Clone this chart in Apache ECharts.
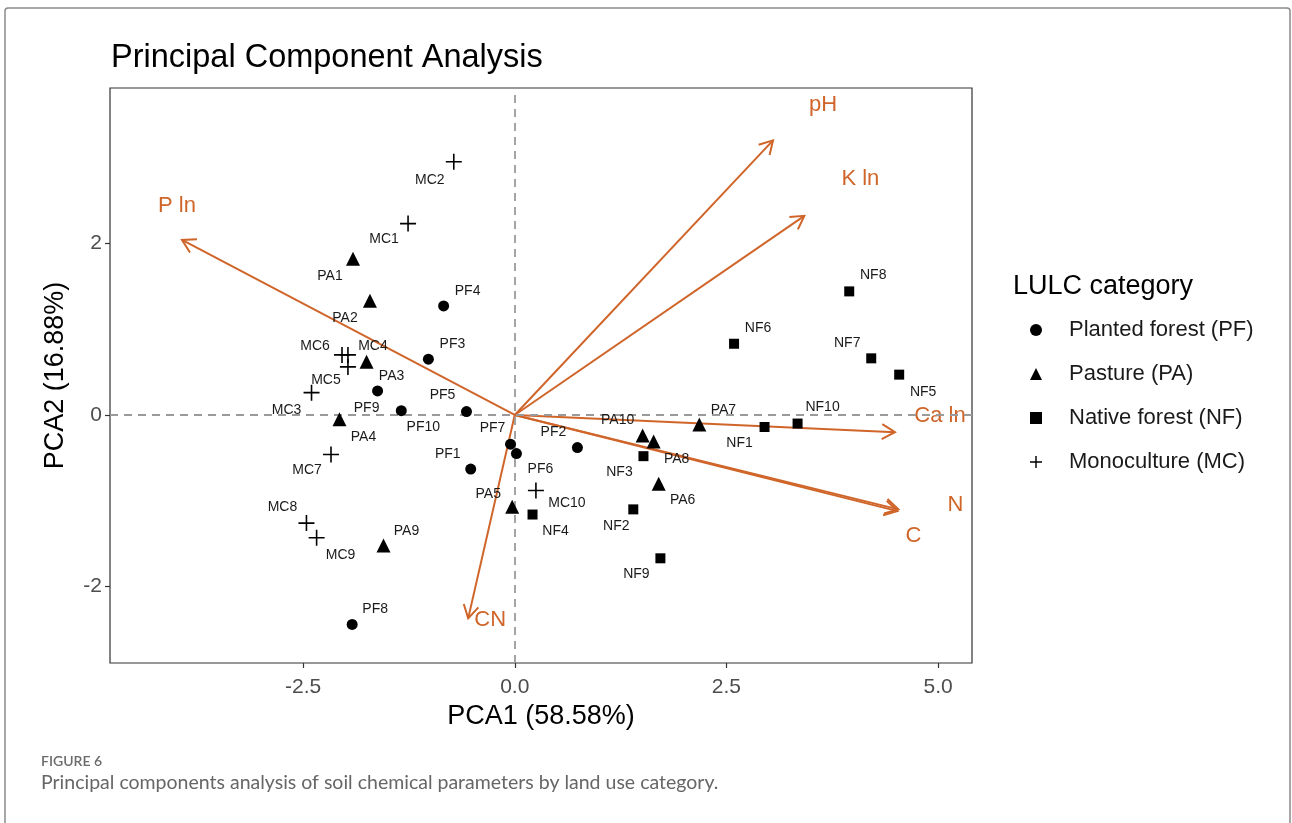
<!DOCTYPE html>
<html>
<head>
<meta charset="utf-8">
<script src="https://cdn.jsdelivr.net/npm/echarts@6/dist/echarts.min.js"></script>
<style>
html,body{margin:0;padding:0;background:#fff;}
#chart{width:1292px;height:823px;}
</style>
</head>
<body>
<div id="chart"></div>
<script>
// ---------- DATA ----------
const pfNames = ['PF1','PF2','PF3','PF4','PF5','PF6','PF7','PF8','PF9','PF10'];
const pfX = [-0.52, 0.74, -1.02, -0.84, -0.57, 0.02, -0.05, -1.92, -1.62, -1.34];
const pfY = [-0.63, -0.38, 0.65, 1.27, 0.04, -0.45, -0.34, -2.44, 0.28, 0.05];

const paNames = ['PA1','PA2','PA3','PA4','PA5','PA6','PA7','PA8','PA9','PA10'];
const paX = [-1.91, -1.71, -1.75, -2.07, -0.03, 1.70, 2.18, 1.64, -1.55, 1.51];
const paY = [1.82, 1.33, 0.62, -0.05, -1.07, -0.80, -0.11, -0.31, -1.52, -0.24];

const nfNames = ['NF1','NF2','NF3','NF4','NF5','NF6','NF7','NF8','NF9','NF10'];
const nfX = [2.95, 1.40, 1.52, 0.21, 4.54, 2.59, 4.21, 3.95, 1.72, 3.34];
const nfY = [-0.14, -1.10, -0.48, -1.16, 0.47, 0.83, 0.66, 1.44, -1.67, -0.10];

const mcNames = ['MC1','MC2','MC3','MC4','MC5','MC6','MC7','MC8','MC9','MC10'];
const mcX = [-1.26, -0.72, -2.40, -1.97, -1.97, -2.04, -2.17, -2.46, -2.34, 0.25];
const mcY = [2.23, 2.95, 0.26, 0.70, 0.56, 0.70, -0.46, -1.26, -1.43, -0.88];

const varNames = ['P ln', 'pH', 'K ln', 'Ca ln', 'C', 'N', 'CN'];
const loadX = [-3.93, 3.05, 3.42, 4.49, 4.52, 4.53, -0.55];
const loadY = [2.04, 3.20, 2.32, -0.20, -1.12, -1.10, -2.37];

const categories = ['Planted forest (PF)', 'Pasture (PA)', 'Native forest (NF)', 'Monoculture (MC)'];
const xTicks = [-2.5, 0, 2.5, 5];
const yTicks = [-2, 0, 2];

// ---------- LAYOUT (label offsets in px) ----------
const labelOffsets = {
  PF1:[-23,-15], PF2:[-24,-15], PF3:[24,-15], PF4:[24,-15], PF5:[-24,-16],
  PF6:[24,16], PF7:[-18,-16], PF8:[23,-15], PF9:[-11,17], PF10:[22,16],
  PA1:[-23,17], PA2:[-25,17], PA3:[25,14], PA4:[24,18], PA5:[-24,-13],
  PA6:[24,17], PA7:[24,-14], PA8:[23,18], PA9:[23,-14], PA10:[-25,-15],
  NF1:[-25,16], NF2:[-17,17], NF3:[-24,16], NF4:[23,17], NF5:[24,17],
  NF6:[24,-16], NF7:[-24,-15], NF8:[24,-16], NF9:[-24,16], NF10:[25,-16],
  MC1:[-24,16], MC2:[-24,18], MC3:[-25,17], MC4:[25,-9], MC5:[-22,13],
  MC6:[-27,-9], MC7:[-24,16], MC8:[-24,-16], MC9:[24,17], MC10:[31,13]
};
const varLabelOffsets = {
  'P ln':[-5,-34], 'pH':[50,-35], 'K ln':[56,-37], 'Ca ln':[45,-16],
  'C':[16,25], 'N':[57,-4], 'CN':[22,2]
};

const FONT = '"Liberation Sans", Arial, sans-serif';
const ORANGE = '#d0652a';
const plusPath = 'path://M-1,-0.1 L-0.1,-0.1 L-0.1,-1 L0.1,-1 L0.1,-0.1 L1,-0.1 L1,0.1 L0.1,0.1 L0.1,1 L-0.1,1 L-0.1,0.1 L-1,0.1 Z';
const plusIcon = 'path://M-1,-0.12 L-0.12,-0.12 L-0.12,-1 L0.12,-1 L0.12,-0.12 L1,-0.12 L1,0.12 L0.12,0.12 L0.12,1 L-0.12,1 L-0.12,0.12 L-1,0.12 Z';

function build(names, xs, ys) {
  return names.map((n, i) => ({ name: n, value: [xs[i], ys[i]] }));
}

function scatter(name, symbol, size, data) {
  return {
    name: name, type: 'scatter', symbol: symbol, symbolSize: size, z: 5,
    itemStyle: { color: '#000', opacity: 1 },
    label: {
      show: true, position: 'inside', formatter: '{b}',
      color: '#1a1a1a', fontSize: 14, fontFamily: FONT
    },
    labelLayout: function (p) {
      const off = labelOffsets[p.text] || [0, 0];
      return { dx: off[0], dy: off[1], hideOverlap: false };
    },
    emphasis: { disabled: true },
    data: data
  };
}

const chart = echarts.init(document.getElementById('chart'), null, { renderer: 'canvas' });

const option = {
  animation: false,
  backgroundColor: '#fff',
  title: [
    { text: 'Principal Component Analysis', left: 106, top: 37,
      textStyle: { fontSize: 32.5, fontWeight: 'normal', color: '#000', fontFamily: FONT } },
    { text: 'LULC category', left: 1008, top: 268,
      textStyle: { fontSize: 27, fontWeight: 'normal', color: '#000', fontFamily: FONT } }
  ],
  legend: {
    orient: 'vertical', left: 1030, top: 317, padding: 0,
    itemWidth: 12, itemHeight: 12, itemGap: 18,
    data: [
      { name: categories[0], icon: 'circle' },
      { name: categories[1], icon: 'triangle' },
      { name: categories[2], icon: 'rect' },
      { name: categories[3], icon: plusIcon }
    ],
    textStyle: { fontSize: 22, color: '#1a1a1a', fontFamily: FONT, lineHeight: 26, padding: [0, 0, 0, 22] },
    selectedMode: false
  },
  grid: {
    left: 110, top: 88, right: 320, bottom: 160,
    show: true, borderColor: '#333', borderWidth: 1.2, backgroundColor: 'transparent'
  },
  xAxis: {
    type: 'value', min: -4.78, max: 5.40,
    name: 'PCA1 (58.58%)', nameLocation: 'middle', nameGap: 39,
    nameTextStyle: { fontSize: 27, color: '#000', fontFamily: FONT },
    axisLine: { show: false, onZero: false },
    axisTick: { show: true, length: 5, customValues: xTicks, lineStyle: { color: '#333', width: 1.2 } },
    axisLabel: { customValues: xTicks, margin: 14, fontSize: 21, color: '#4d4d4d', fontFamily: FONT,
      formatter: v => v.toFixed(1) },
    splitLine: { show: false }
  },
  yAxis: {
    type: 'value', min: -2.89, max: 3.81,
    name: 'PCA2 (16.88%)', nameLocation: 'middle', nameGap: 41,
    nameTextStyle: { fontSize: 27, color: '#000', fontFamily: FONT },
    axisLine: { show: false, onZero: false },
    axisTick: { show: true, length: 5, customValues: yTicks, lineStyle: { color: '#333', width: 1.2 } },
    axisLabel: { customValues: yTicks, margin: 8, fontSize: 21, color: '#4d4d4d', fontFamily: FONT,
      formatter: v => String(v) },
    splitLine: { show: false }
  },
  series: [
    {
      type: 'line', data: [], z: 1, silent: true,
      markLine: {
        silent: true, symbol: ['none', 'none'], label: { show: false },
        lineStyle: { color: '#9a9a9a', type: [8, 6], width: 1.8 },
        emphasis: { disabled: true },
        data: [{ xAxis: 0 }, { yAxis: 0 }]
      }
    },
    {
      type: 'custom', z: 3, silent: true, clip: false,
      data: varNames.map((n, i) => [loadX[i], loadY[i], n]),
      encode: { x: 0, y: 1 },
      renderItem: function (params, api) {
        const o = api.coord([0, 0]);
        const t = api.coord([api.value(0), api.value(1)]);
        const name = varNames[params.dataIndex];
        const ang = Math.atan2(t[1] - o[1], t[0] - o[0]);
        const L = 15, phi = Math.PI / 6;
        const back = ang + Math.PI;
        const p1 = [t[0] + L * Math.cos(back + phi), t[1] + L * Math.sin(back + phi)];
        const p2 = [t[0] + L * Math.cos(back - phi), t[1] + L * Math.sin(back - phi)];
        const off = varLabelOffsets[name] || [0, 0];
        return {
          type: 'group',
          children: [
            { type: 'line', shape: { x1: o[0], y1: o[1], x2: t[0], y2: t[1] },
              style: { stroke: ORANGE, lineWidth: 2 } },
            { type: 'polyline', shape: { points: [p1, t, p2] },
              style: { stroke: ORANGE, lineWidth: 2, fill: null } },
            { type: 'text', x: t[0] + off[0], y: t[1] + off[1],
              style: { text: name, fill: ORANGE, font: '22px ' + FONT, align: 'center', verticalAlign: 'middle' } }
          ]
        };
      }
    },
    scatter(categories[0], 'circle', 11, build(pfNames, pfX, pfY)),
    scatter(categories[1], 'triangle', 14, build(paNames, paX, paY)),
    scatter(categories[2], 'rect', 10, build(nfNames, nfX, nfY)),
    scatter(categories[3], plusPath, 16, build(mcNames, mcX, mcY))
  ],
  graphic: [
    { type: 'rect', silent: true, z: -1,
      shape: { x: 5, y: 8, width: 1285, height: 900, r: 3 },
      style: { fill: null, stroke: '#8a8a8a', lineWidth: 1.5 } },
    { type: 'text', left: 41, top: 754,
      style: { text: 'FIGURE 6', fill: '#6b6b6b', font: '600 14px Lato, "Open Sans", sans-serif' } },
    { type: 'text', left: 41, top: 773,
      style: { text: 'Principal components analysis of soil chemical parameters by land use category.',
        fill: '#666', font: '19.5px Lato, "Open Sans", sans-serif' } }
  ]
};

chart.setOption(option);
</script>
</body>
</html>
